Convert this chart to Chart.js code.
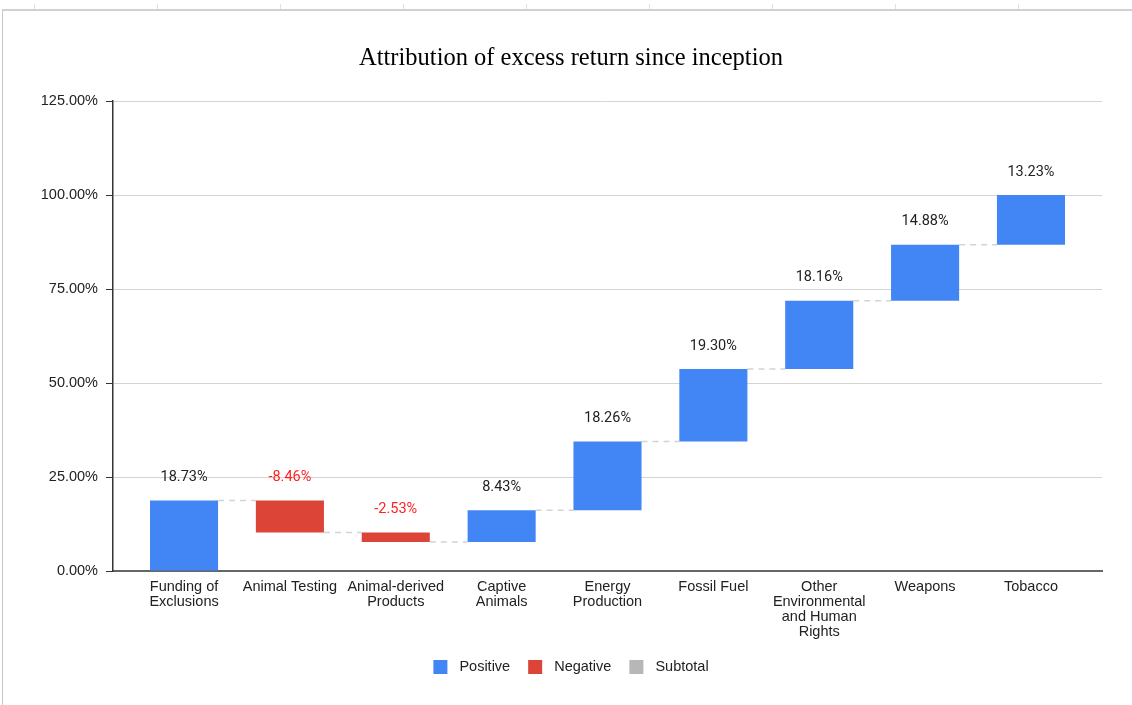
<!DOCTYPE html>
<html>
<head>
<meta charset="utf-8">
<script src="https://cdn.jsdelivr.net/npm/chart.js@4.4.1/dist/chart.umd.min.js"></script>
<style>
    body { margin: 0; background: #fff; overflow: hidden; width: 1132px; height: 705px; }
    #marco { position: absolute; left: 2px; top: 9px; width: 1140px; height: 710px; border-left: 1px solid #c8c8c8; border-top: 2px solid #d0d0d0; }
    #columnas { position: absolute; left: 0; top: 4px; width: 1132px; height: 5px;
        background: repeating-linear-gradient(90deg, transparent 0, transparent 34px, #e0e0e0 34px, #e0e0e0 35px, transparent 35px, transparent 123px); }
    #grafico { position: absolute; left: 10px; top: 0; }
</style>
</head>
<body>
<div id="columnas"></div>
<div id="marco"></div>
<canvas id="grafico" width="1122" height="705"></canvas>
<script>
// datos
const categorias = [
    ['Funding of', 'Exclusions'],
    'Animal Testing',
    ['Animal-derived', 'Products'],
    ['Captive', 'Animals'],
    ['Energy', 'Production'],
    'Fossil Fuel',
    ['Other', 'Environmental', 'and Human', 'Rights'],
    'Weapons',
    'Tobacco'
];
const variaciones = [18.73, -8.46, -2.53, 8.43, 18.26, 19.30, 18.16, 14.88, 13.23];
const ticksY = [0, 25, 50, 75, 100, 125];
const leyenda = ['Positive', 'Negative', 'Subtotal'];
const coloresLeyenda = ['#4285f4', '#db4437', '#b7b7b7'];

// acumulado para la cascada
let acumulado = [];
let total = 0;
for (let v of variaciones) {
    total += v;
    acumulado.push(total);
}

let barras = variaciones.map((v, i) => {
    let inicio = acumulado[i] - v;
    return { x: i, y: [inicio, acumulado[i]] };
});
let colores = variaciones.map(v => v >= 0 ? coloresLeyenda[0] : coloresLeyenda[1]);

const fuenteEjes = { family: 'Liberation Sans', size: 14.5 };

const pluginCascada = {
    id: 'cascada',
    beforeDatasetsDraw(chart) {
        const ctx = chart.ctx;
        const meta = chart.getDatasetMeta(0);
        const y = chart.scales.y;
        ctx.save();
        ctx.strokeStyle = '#d3d3d3';
        ctx.lineWidth = 1.5;
        ctx.setLineDash([6, 5]);
        for (let i = 0; i < meta.data.length - 1; i++) {
            let a = meta.data[i], b = meta.data[i + 1];
            let py = y.getPixelForValue(acumulado[i]);
            ctx.beginPath();
            ctx.moveTo(a.x + a.width / 2, py);
            ctx.lineTo(b.x - b.width / 2, py);
            ctx.stroke();
        }
        ctx.restore();
    },
    afterDatasetsDraw(chart) {
        const ctx = chart.ctx;
        const meta = chart.getDatasetMeta(0);
        ctx.save();
        ctx.font = '14.5px Roboto';
        ctx.textAlign = 'center';
        ctx.textBaseline = 'middle';
        meta.data.forEach((barra, i) => {
            let tope = Math.min(barra.y, barra.base);
            ctx.fillStyle = variaciones[i] < 0 ? '#ff1f1f' : '#222';
            ctx.fillText(variaciones[i].toFixed(2) + '%', barra.x, tope - 23);
        });
        ctx.restore();
    },
    afterDraw(chart) {
        // leyenda dibujada a mano
        const ctx = chart.ctx;
        ctx.save();
        ctx.font = '14.5px Liberation Sans';
        ctx.textBaseline = 'middle';
        let anchos = leyenda.map(t => ctx.measureText(t).width);
        let totalAncho = anchos.reduce((s, w) => s + 14 + 12 + w, 0) + 18 * (leyenda.length - 1);
        let x = chart.width / 2 - totalAncho / 2;
        let yc = 667;
        leyenda.forEach((t, i) => {
            ctx.fillStyle = coloresLeyenda[i];
            ctx.fillRect(x, yc - 7, 14, 14);
            ctx.fillStyle = '#222';
            ctx.fillText(t, x + 26, yc);
            x += 26 + anchos[i] + 18;
        });
        ctx.restore();
    }
};

const ctx = document.getElementById('grafico').getContext('2d');
new Chart(ctx, {
    type: 'bar',
    data: {
        datasets: [{
            label: 'Attribution',
            data: barras,
            backgroundColor: colores,
            borderWidth: 0,
            barPercentage: 0.643,
            categoryPercentage: 1
        }]
    },
    options: {
        responsive: false,
        animation: false,
        layout: { padding: { left: 30, right: 30, top: 0, bottom: 0 } },
        plugins: {
            legend: { display: false },
            tooltip: { enabled: false },
            title: {
                display: true,
                text: 'Attribution of excess return since inception',
                color: '#000',
                font: { family: 'Liberation Serif', size: 24.5, weight: 'normal' },
                padding: { top: 44.3, bottom: 27.3 }
            }
        },
        scales: {
            x: {
                type: 'linear',
                offset: false,
                min: -0.671,
                max: 8.671,
                grid: { display: false },
                border: { color: '#666', width: 2 },
                afterBuildTicks: s => { s.ticks = categorias.map((c, i) => ({ value: i })); },
                afterFit: s => { s.height = 134; },
                ticks: {
                    autoSkip: false,
                    maxRotation: 0,
                    padding: 1,
                    color: '#222',
                    font: { family: 'Liberation Sans', size: 14.5, lineHeight: 1.03 },
                    callback: v => categorias[v]
                }
            },
            y: {
                min: 0,
                max: 125,
                afterBuildTicks: s => { s.ticks = ticksY.map(v => ({ value: v })); },
                afterFit: s => { s.width = 73; },
                grid: { color: '#d4d4d4', tickColor: '#333', tickLength: 7 },
                border: { color: '#333', width: 1.5 },
                ticks: {
                    padding: 8,
                    color: '#222',
                    font: fuenteEjes,
                    callback: v => v.toFixed(2) + '%'
                }
            }
        }
    },
    plugins: [pluginCascada]
});
</script>
</body>
</html>
